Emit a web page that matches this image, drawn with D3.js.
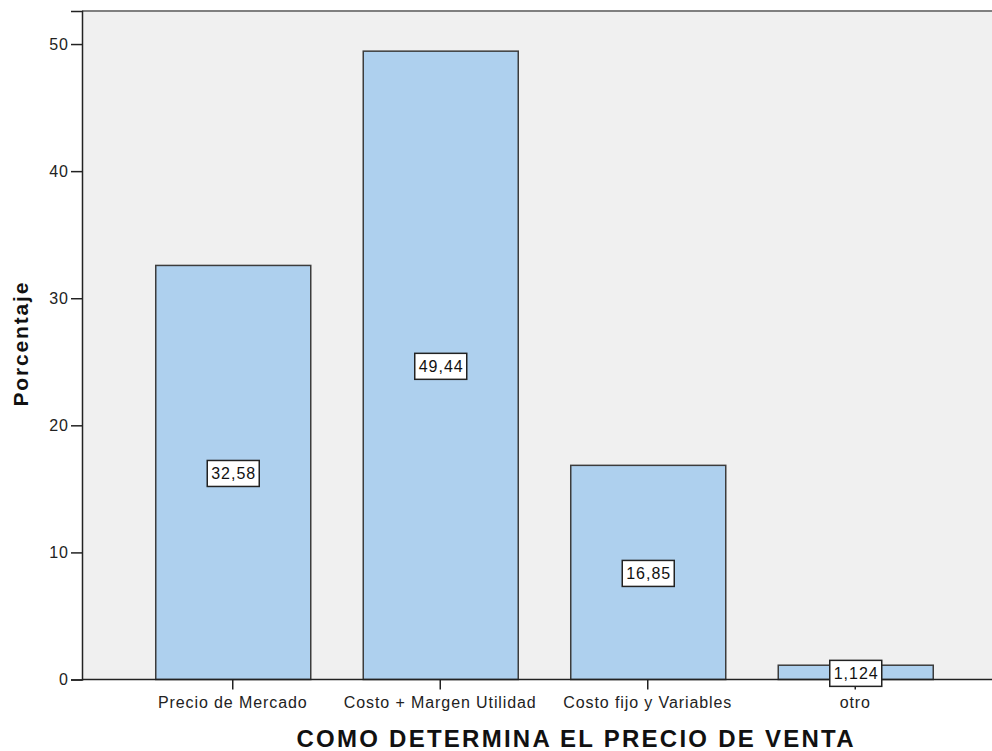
<!DOCTYPE html>
<html>
<head>
<meta charset="utf-8">
<script src="https://cdn.jsdelivr.net/npm/d3@7/dist/d3.min.js"></script>
<style>
html,body{margin:0;padding:0;background:#fff;}
svg{display:block;font-family:"Liberation Sans",Arial,sans-serif;}
</style>
</head>
<body>
<svg id="chart" width="992" height="751"></svg>
<script>
const categories = ["Precio de Mercado", "Costo + Margen Utilidad", "Costo fijo y Variables", "otro"];
const values = [32.58, 49.44, 16.85, 1.124];
const valueLabels = ["32,58", "49,44", "16,85", "1,124"];
const yTicks = [0, 10, 20, 30, 40, 50];

(function(){
const svg = d3.select("#chart");
const pLeft = 82, pTop = 11, pBottom = 679.5, pRight = 992;
const FONT = "'Liberation Sans',Arial,sans-serif";

const x = d3.scaleBand().domain(categories).range([pLeft, 1006]).paddingInner(0.253).paddingOuter(0.353);
const y = d3.scaleLinear().domain([0, 52.6]).range([pBottom, pTop]);

// plot background
svg.append("rect").attr("x", pLeft).attr("y", pTop).attr("width", pRight - pLeft).attr("height", pBottom - pTop).attr("fill", "#f0f0f0");
// top border
svg.append("line").attr("x1", pLeft).attr("x2", pRight).attr("y1", pTop).attr("y2", pTop).attr("stroke", "#808080").attr("stroke-width", 2);

// bars
svg.append("g").selectAll("rect").data(values).join("rect")
  .attr("x", (d, i) => x(categories[i]) + 0.5)
  .attr("y", d => y(d))
  .attr("width", x.bandwidth())
  .attr("height", d => pBottom - y(d))
  .attr("fill", "#aed0ee")
  .attr("stroke", "#3c3c3c")
  .attr("stroke-width", 1.5);

// y axis
const yAxis = d3.axisLeft(y).tickValues(yTicks).tickSize(11).tickPadding(2).tickFormat(d3.format("d"));
const gy = svg.append("g").attr("transform", `translate(${pLeft},0)`).call(yAxis);
gy.select(".domain").attr("stroke", "#222").attr("stroke-width", 1.5);
gy.selectAll(".tick line").attr("stroke", "#222").attr("stroke-width", 1.5);
gy.selectAll(".tick text").attr("fill", "#222").attr("font-family", FONT).style("font-size","16px").style("letter-spacing","1px");

// x axis
const xAxis = d3.axisBottom(x).tickSize(10).tickPadding(7).tickSizeOuter(0);
const gx = svg.append("g").attr("transform", `translate(0,${pBottom})`).call(xAxis);
gx.select(".domain").attr("stroke", "#222").attr("stroke-width", 1.5).attr("d", `M${pLeft},0H${pRight}`);
gx.selectAll(".tick line").attr("stroke", "#222").attr("stroke-width", 1.5);
gx.selectAll(".tick text").attr("fill", "#222").attr("font-family", FONT).style("font-size", "16px").style("letter-spacing","0.9px");

// value labels
const lg = svg.append("g");
values.forEach((v, i) => {
  const cx = x(categories[i]) + x.bandwidth() / 2 + 0.5;
  const cy = (y(v) + pBottom) / 2 + 1;
  const g = lg.append("g");
  g.append("rect").attr("x", cx - 26).attr("y", cy - 13).attr("width", 52).attr("height", 26)
    .attr("fill", "#fff").attr("stroke", "#222").attr("stroke-width", 1.5);
  g.append("text").attr("x", cx + 0.5).attr("y", cy).attr("text-anchor", "middle").attr("dominant-baseline", "central")
    .attr("font-family", FONT).style("font-size", "16px").style("letter-spacing","1px").attr("fill", "#111").text(valueLabels[i]);
});

// axis titles
svg.append("text").attr("transform", "translate(28,344.5) rotate(-90)").attr("text-anchor", "middle")
  .attr("font-family", FONT).attr("font-weight", "bold").style("font-size", "21px").attr("fill", "#111")
  .attr("textLength", 124).attr("lengthAdjust", "spacing").text("Porcentaje");
svg.append("text").attr("x", 575).attr("y", 747).attr("text-anchor", "middle")
  .attr("font-family", FONT).attr("font-weight", "bold").style("font-size", "24px").attr("fill", "#111")
  .attr("textLength", 557).attr("lengthAdjust", "spacing").text("COMO DETERMINA EL PRECIO DE VENTA");
})();
</script>
</body>
</html>
